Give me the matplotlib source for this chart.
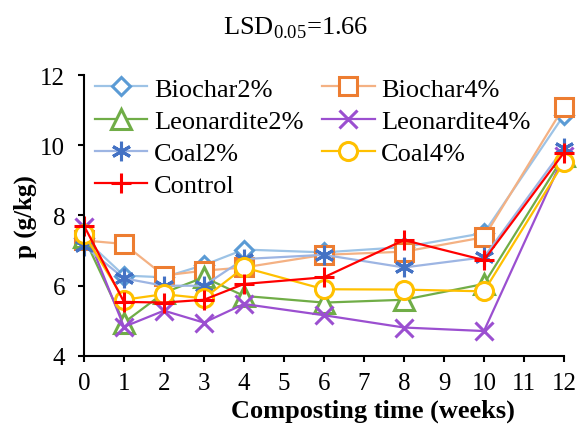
import matplotlib
matplotlib.use("Agg")
import matplotlib.pyplot as plt

plt.rcParams['font.family'] = ['Liberation Serif', 'DejaVu Serif']
plt.rcParams['mathtext.fontset'] = 'custom'
plt.rcParams['mathtext.rm'] = 'Liberation Serif'

weeks = [0, 1, 2, 3, 4, 6, 8, 10, 12]
biochar2 = [7.35, 6.29, 6.24, 6.59, 7.03, 6.95, 7.10, 7.50, 10.86]
biochar4 = [7.29, 7.19, 6.29, 6.43, 6.52, 6.88, 6.97, 7.38, 11.10]
leonardite2 = [7.38, 4.95, 5.80, 6.24, 5.71, 5.52, 5.60, 6.05, 9.70]
leonardite4 = [7.67, 4.83, 5.29, 4.95, 5.48, 5.16, 4.81, 4.71, 9.70]
coal2 = [7.14, 6.21, 6.00, 6.00, 6.76, 6.88, 6.52, 6.81, 9.92]
coal4 = [7.48, 5.60, 5.76, 5.64, 6.52, 5.90, 5.89, 5.84, 9.52]
control = [7.71, 5.54, 5.52, 5.60, 6.05, 6.24, 7.30, 6.73, 9.79]

# name, values, line colour, marker colour, marker, size
series = [
    ("Biochar2%", biochar2, "#9DC3E6", "#5B9BD5", "D", 9.5),
    ("Biochar4%", biochar4, "#F4B183", "#ED7D31", "s", 13),
    ("Leonardite2%", leonardite2, "#70AD47", "#70AD47", "^", 14),
    ("Leonardite4%", leonardite4, "#9B4FD0", "#9B4FD0", "x", 13),
    ("Coal2%", coal2, "#9DB5E3", "#4472C4", (6, 2, 0), 14),
    ("Coal4%", coal4, "#FFC000", "#FFC000", "o", 13),
    ("Control", control, "#FF0000", "#FF0000", "+", 14),
]

fig = plt.figure(figsize=(5.79, 4.27), dpi=100)
ax = fig.add_axes([0.145, 0.164, 0.829, 0.658])

handles = {}
for name, vals, lc, mc, mk, ms in series:
    face = "white" if mk in ("D", "s", "^", "o") else mc
    h, = ax.plot(weeks, vals, color=lc, lw=1.6, marker=mk, markersize=ms,
                 markeredgecolor=mc, markerfacecolor=face, markeredgewidth=2.2,
                 label=name, clip_on=False)
    handles[name] = h

ax.set_xlim(0, 12)
ax.set_ylim(4, 12)
ax.set_xticks(range(13))
ax.set_yticks([4, 6, 8, 10, 12])
ax.spines['top'].set_visible(False)
ax.spines['right'].set_visible(False)
for s in ('left', 'bottom'):
    ax.spines[s].set_linewidth(1.5)
ax.tick_params(axis='both', labelsize=18, width=1.5, length=4.5, direction='out')
ax.tick_params(axis='x', pad=7)
ax.tick_params(axis='y', pad=9)

ax.set_xlabel("Composting time (weeks)", fontsize=19, fontweight='bold')
ax.xaxis.set_label_coords(0.602, -0.152)
ax.set_ylabel("p (g/kg)", fontsize=18, fontweight='bold')
ax.yaxis.set_label_coords(-0.098, 0.5)
fig.text(0.511, 0.934, "LSD$_{0.05}$=1.66", fontsize=19, ha='center', va='center')

# legend filled row by row like the original
order = ["Biochar2%", "Leonardite2%", "Coal2%", "Control",
         "Biochar4%", "Leonardite4%", "Coal4%"]
ax.legend([handles[n] for n in order], order, ncol=2, loc='upper left',
          bbox_to_anchor=(0.0, 1.03), frameon=False,
          fontsize=19, handlelength=2.0, handletextpad=0.25, columnspacing=0.7,
          labelspacing=0.33, borderaxespad=0.2, borderpad=0.2)

fig.savefig("out.png", dpi=100)
